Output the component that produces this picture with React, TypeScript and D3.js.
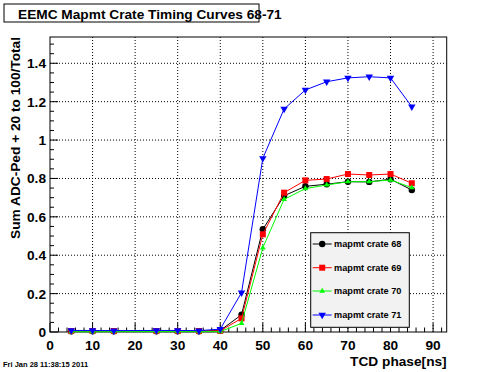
import * as d3 from "d3";

const phases = [5, 10, 15, 25, 30, 35, 40, 45, 50, 55, 60, 65, 70, 75, 80, 85];
const crate68 = [0.004, 0.004, 0.004, 0.004, 0.004, 0.004, 0.008, 0.09, 0.535, 0.71, 0.759, 0.77, 0.783, 0.782, 0.796, 0.74];
const crate69 = [0.005, 0.005, 0.005, 0.005, 0.005, 0.005, 0.006, 0.071, 0.509, 0.726, 0.79, 0.797, 0.823, 0.818, 0.823, 0.775];
const crate70 = [0.002, 0.001, 0.002, 0.002, 0.002, 0.002, 0.002, 0.045, 0.439, 0.691, 0.747, 0.766, 0.783, 0.783, 0.792, 0.752];
const crate71 = [0.008, 0.008, 0.007, 0.008, 0.008, 0.007, 0.015, 0.205, 0.905, 1.162, 1.261, 1.304, 1.324, 1.33, 1.324, 1.174];

const xTicks = [0, 10, 20, 30, 40, 50, 60, 70, 80, 90];
const yTicks = [0, 0.2, 0.4, 0.6, 0.8, 1, 1.2, 1.4];
const yTickLabels = ["0", "0.2", "0.4", "0.6", "0.8", "1", "1.2", "1.4"];

const series = [
  { name: "mapmt crate 68", values: crate68, color: "#000000", marker: "circle" },
  { name: "mapmt crate 69", values: crate69, color: "#ff0000", marker: "square" },
  { name: "mapmt crate 70", values: crate70, color: "#00ff00", marker: "triUp" },
  { name: "mapmt crate 71", values: crate71, color: "#0000ff", marker: "triDown" },
];

const W = 496;
const H = 372;
const frame = { left: 50, right: 446.7, top: 37, bottom: 332 };
const font = "'Liberation Sans', Arial, Helvetica, sans-serif";

function Marker({ type, x, y, color }: { type: string; x: number; y: number; color: string }) {
  if (type === "circle") return <circle cx={x} cy={y} r={3.2} fill={color} />;
  if (type === "square") return <rect x={x - 3} y={y - 3} width={6} height={6} fill={color} />;
  const sym = d3.symbol().type(d3.symbolTriangle).size(type === "triUp" ? 14 : 24)();
  return (
    <path d={sym!} fill={color} transform={`translate(${x},${y})${type === "triDown" ? " rotate(180)" : ""}`} />
  );
}

export default function App() {
  const x = d3.scaleLinear().domain([0, 93.2]).range([frame.left, frame.right]);
  const y = d3.scaleLinear().domain([0, 1.537]).range([frame.bottom, frame.top]);

  const xMinor = d3.range(0, 93.2, 2).filter((v) => v % 10 !== 0);
  const yMinor = d3.range(0, 1.537, 0.05).filter((v) => Math.abs(v / 0.2 - Math.round(v / 0.2)) > 0.01);

  const line = d3
    .line<number>()
    .x((_, i) => x(phases[i]))
    .y((d) => y(d));

  const legend = { x: 310.7, y: 232.7, w: 98.6, h: 94.6 };
  const legendRows = [244, 267.7, 291, 315];

  return (
    <svg width={W} height={H} style={{ position: "absolute", left: 0, top: 0 }} fontFamily={font}>
      <rect width={W} height={H} fill="#fff" />

      {/* grid */}
      {xTicks.slice(1).map((t) => (
        <line key={"gx" + t} x1={x(t)} x2={x(t)} y1={frame.top} y2={frame.bottom} stroke="#000" strokeDasharray="1,2" />
      ))}
      {yTicks.slice(1).map((t) => (
        <line key={"gy" + t} x1={frame.left} x2={frame.right} y1={y(t)} y2={y(t)} stroke="#000" strokeDasharray="1,2" />
      ))}

      {/* frame */}
      <rect
        x={frame.left}
        y={frame.top}
        width={frame.right - frame.left}
        height={frame.bottom - frame.top}
        fill="none"
        stroke="#000"
      />

      {/* ticks */}
      {xTicks.map((t) => (
        <line key={"tx" + t} x1={x(t)} x2={x(t)} y1={frame.bottom} y2={frame.bottom - 9} stroke="#000" />
      ))}
      {xMinor.map((t) => (
        <line key={"mx" + t} x1={x(t)} x2={x(t)} y1={frame.bottom} y2={frame.bottom - 4.5} stroke="#000" />
      ))}
      {yTicks.map((t) => (
        <line key={"ty" + t} x1={frame.left} x2={frame.left + 8} y1={y(t)} y2={y(t)} stroke="#000" />
      ))}
      {yMinor.map((t) => (
        <line key={"my" + t} x1={frame.left} x2={frame.left + 4} y1={y(t)} y2={y(t)} stroke="#000" />
      ))}

      {/* tick labels */}
      {xTicks.map((t) => (
        <text key={"lx" + t} x={x(t)} y={350} textAnchor="middle" fontSize={13.7} fontWeight="bold">
          {t}
        </text>
      ))}
      {yTicks.map((t, i) => (
        <text key={"ly" + t} x={46} y={y(t) + 5} textAnchor="end" fontSize={13.7} fontWeight="bold">
          {yTickLabels[i]}
        </text>
      ))}

      {/* series */}
      {series.map((s) => (
        <g key={s.name}>
          <path d={line(s.values)!} fill="none" stroke={s.color} strokeWidth={1} />
          {s.values.map((v, i) => (
            <Marker key={i} type={s.marker} x={x(phases[i])} y={y(v)} color={s.color} />
          ))}
        </g>
      ))}

      {/* legend */}
      <rect x={legend.x} y={legend.y} width={legend.w} height={legend.h} fill="#f2f2f2" stroke="#000" />
      {series.map((s, i) => (
        <g key={"lg" + s.name}>
          <line x1={312.7} x2={331.7} y1={legendRows[i]} y2={legendRows[i]} stroke={s.color} />
          <Marker type={s.marker} x={322.2} y={legendRows[i]} color={s.color} />
          <text x={334} y={legendRows[i] + 3.3} fontSize={9.2} fontWeight="bold">
            {s.name}
          </text>
        </g>
      ))}

      {/* axis titles */}
      <text x={frame.right} y={366} textAnchor="end" fontSize={13.7} fontWeight="bold">
        TCD phase[ns]
      </text>
      <text
        transform={`translate(20,${frame.top}) rotate(-90)`}
        textAnchor="end"
        fontSize={13.7}
        fontWeight="bold"
      >
        Sum ADC-Ped + 20 to 100/Total
      </text>

      {/* title */}
      <rect x={4} y={4} width={255} height={18} fill="#fff" stroke="#000" />
      <text x={18} y={18.5} fontSize={13.7} fontWeight="bold">
        EEMC Mapmt Crate Timing Curves 68-71
      </text>

      {/* date */}
      <text x={3} y={367} fontSize={7.5} fontWeight="bold">
        Fri Jan 28 11:38:15 2011
      </text>
    </svg>
  );
}
